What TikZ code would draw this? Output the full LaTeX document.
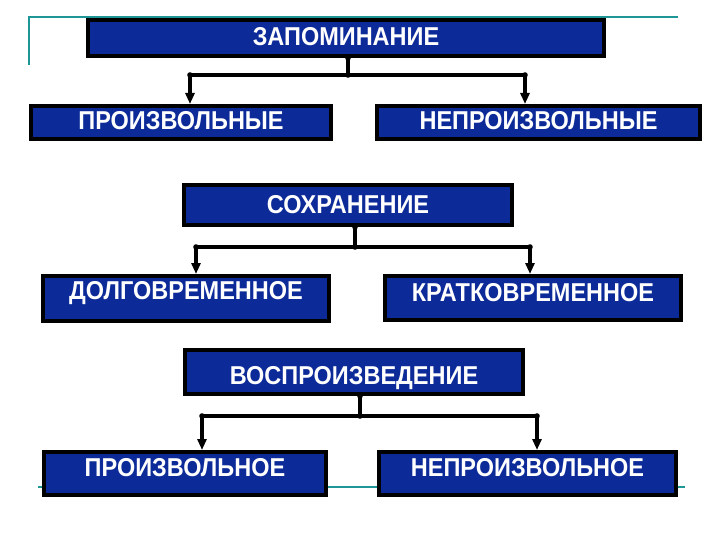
\documentclass[tikz,border=0pt]{standalone}
\usepackage{fontspec}
\setmainfont{Liberation Sans}
\usepackage{tikz}
\usetikzlibrary{arrows.meta,calc}
\definecolor{boxblue}{RGB}{12,42,152}
\definecolor{frameteal}{RGB}{30,150,150}

\begin{document}
\begin{tikzpicture}[x=1pt,y=-1pt,
    blk/.style={draw=black,line width=4pt,fill=boxblue,inner sep=0pt},
    lbl/.style={text=white,inner sep=0pt,font=\bfseries\fontsize{23.5}{24}\selectfont},
    conn/.style={line width=3.2pt},
    arr/.style={conn,-{Triangle[length=11pt,width=9pt]}}]
  \useasboundingbox (0,0) rectangle (720,540);
  % frame lines of the slide
  \draw[frameteal,line width=1.8pt] (29,65) -- (29,17) -- (678,17);
  \draw[frameteal,line width=1.8pt] (38,487) -- (685,487);
  % boxes: name/x/y/width/height/text shift/text
  \foreach \n/\x/\y/\w/\h/\dy/\t in {zap/346/38/520/40/1/ЗАПОМИНАНИЕ,
      proizv/181/122.5/304/37/2/ПРОИЗВОЛЬНЫЕ, neproizv/538.5/122.5/327/37/2/НЕПРОИЗВОЛЬНЫЕ,
      sohr/348/205/332/44/0/СОХРАНЕНИЕ,
      dolg/186/298.5/290/49/5/ДОЛГОВРЕМЕННОЕ, kratk/533/298/300/48/5/КРАТКОВРЕМЕННОЕ,
      vospr/354/372/342/48/-6/ВОСПРОИЗВЕДЕНИЕ,
      proizvoe/185/473.5/286/47/6/ПРОИЗВОЛЬНОЕ, neproizvoe/527.5/473.5/301/47/6/НЕПРОИЗВОЛЬНОЕ}{
    \node[blk,minimum width=\w-4,minimum height=\h-4] (\n) at (\x,\y) {};
    \node[lbl] (\n-t) at ([yshift=\dy pt]\n.center) {\scalebox{1}[1.1]{\t}};
  }
  % branching connectors: top/left/right/stem x/junction y/left x/right x
  \foreach \t/\l/\r/\sx/\jy/\xl/\xr in {zap/proizv/neproizv/348/75/190/525,
      sohr/dolg/kratk/355/247/196/530, vospr/proizvoe/neproizvoe/360/416/202/537}{
    \coordinate (c\t) at (\sx,\jy);
    \coordinate (l\t) at (\xl,\jy);
    \coordinate (r\t) at (\xr,\jy);
    \draw[conn] (c\t |- \t.south) -- (c\t);
    \draw[conn] (l\t) -- (r\t);
    \draw[arr] (l\t) -- (l\t |- \l.north);
    \draw[arr] (r\t) -- (r\t |- \r.north);
    \foreach \p in {c\t |- \t.south, c\t, l\t, r\t}
      \fill (\p) circle (2.8pt);
  }
\end{tikzpicture}
\end{document}
